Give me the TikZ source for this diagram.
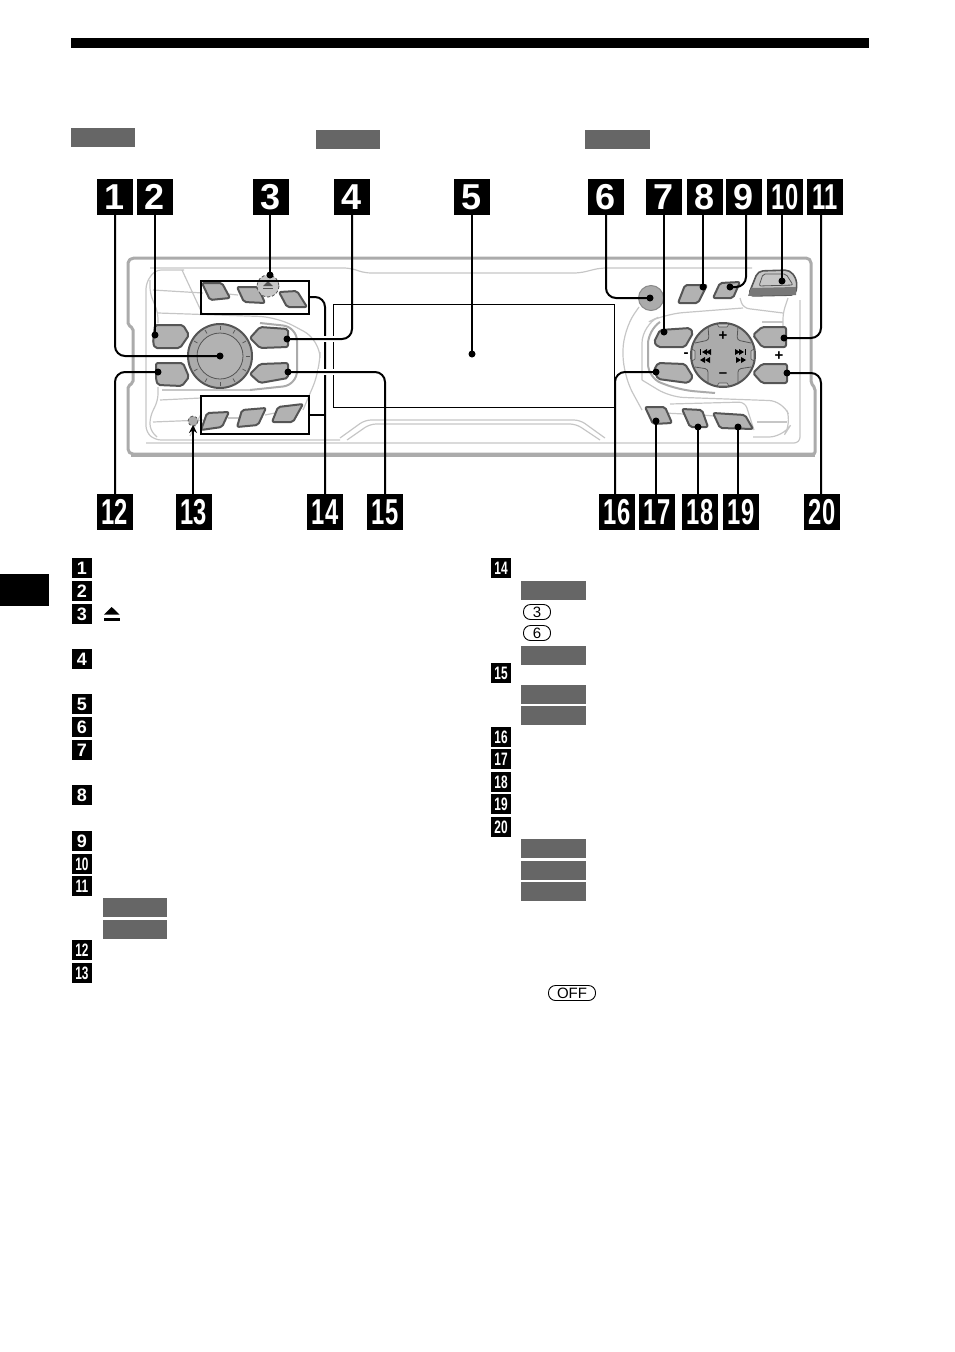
\documentclass[tikz,border=0pt]{standalone}
\usepackage{fontspec}
\setmainfont{Liberation Sans}
\usetikzlibrary{arrows.meta}
\definecolor{shellgray}{HTML}{ABABAB}
\definecolor{trimgray}{HTML}{C6C6C6}
\definecolor{capgray}{HTML}{B2B2B2}
\definecolor{edgegray}{HTML}{555555}
\definecolor{bargray}{HTML}{666666}
\newcommand{\tight}[1]{\scalebox{0.66}[1]{#1}}
\tikzset{
    numbox/.style = {fill = black, text = white, minimum size = 36pt, inner sep = 0pt, font = \bfseries\fontsize{36}{36}\selectfont},
    legbox/.style = {fill = black, text = white, minimum size = 20pt, inner sep = 0pt, font = \bfseries\fontsize{18}{18}\selectfont},
    greybar/.style = {fill = bargray, draw = none},
    shell/.style = {draw = shellgray, line width = 3pt, rounded corners = 2pt},
    trim/.style = {draw = trimgray, line width = 1.2pt, rounded corners = 6pt},
    btn/.style = {fill = capgray, draw = edgegray, line width = 2pt, rounded corners = 2pt, line join = round},
    pindot/.style = {circle, fill = black, minimum size = 7pt, inner sep = 0pt},
    lead/.style = {draw = black, line width = 2pt, rounded corners = 10pt},
    frame/.style = {draw = black, line width = 2pt},
    keycap/.style = {draw = black, line width = 0.9pt, rounded corners = 7pt, inner sep = 0pt, font = \fontsize{15}{15}\selectfont},
    padline/.style = {draw = edgegray, line width = 0.8pt, rounded corners = 3pt}
}
\begin{document}
\begin{tikzpicture}[x = 1pt, y = -1pt]
    \useasboundingbox (0, 0) rectangle (954, 1352);

    % page furniture
    \fill[black] (71, 38) rectangle (869, 48);
    \fill[black] (0, 574) rectangle (49, 606);
    \fill[greybar] (71, 128) rectangle (135, 147);
    \fill[greybar] (316, 130) rectangle (380, 149);
    \fill[greybar] (585, 130) rectangle (650, 149);

    % faceplate outline
    \draw[shell] (132, 258) -- (808, 258) -- (811, 261) -- (811, 383) -- (815, 388) -- (815, 454) -- (131, 454) -- (128, 451) -- (128, 386) -- (133, 383) -- (133, 328) -- (128, 325) -- (128, 261) -- cycle;
    \draw[draw = shellgray, line width = 1.5pt] (131, 456) -- (815, 456);
    \draw[trim] (150, 268) -- (350, 268) -- (365, 273) -- (580, 273) -- (600, 268) -- (752, 268);
    \draw[trim] (800, 300) -- (800, 443) -- (146, 443);
    \draw[trim] (340, 438) -- (365, 420) -- (580, 420) -- (605, 438);
    \draw[trim] (347, 440) -- (370, 424) -- (576, 424) -- (600, 440);

    % left pocket
    \draw[trim] (184, 270) -- (155, 270) -- (146, 283) -- (146, 432) -- (155, 440) -- (340, 440);
    \draw[trim] (182, 270) -- (202, 313);
    \draw[trim] (150, 280) -- (150, 293) -- (158, 313) -- (158, 323);
    \draw[trim, rounded corners = 18pt] (158, 313) -- (277, 317) -- (320, 340) -- (320, 370) -- (303, 410);
    \draw[draw = shellgray, line width = 2pt, rounded corners = 14pt] (260, 323) -- (297, 327) -- (297, 385) -- (250, 390);
    \draw[trim] (158, 387) -- (158, 400) -- (150, 417) -- (150, 430) -- (157, 437);
    \draw[trim] (162, 390) -- (250, 390);
    \draw[trim] (160, 400) -- (201, 398);
    \draw[trim] (153, 290) -- (203, 293);
    \draw[trim] (153, 422) -- (203, 420);
    \draw[trim] (201, 414) -- (190, 436);
    \draw[trim] (228, 294) -- (238, 295);
    \draw[trim] (228, 418) -- (240, 418);
    \draw[trim] (265, 415) -- (275, 413);

    % right pocket
    \draw[trim, rounded corners = 20pt] (639, 307) -- (623, 330) -- (623, 375) -- (642, 410);
    \draw[trim, rounded corners = 18pt] (642, 380) -- (642, 325) -- (665, 314) -- (743, 308);
    \draw[trim] (740, 298) -- (743, 308) -- (783, 313);
    \draw[trim] (788, 298) -- (783, 313) -- (783, 326);
    \draw[draw = shellgray, line width = 2pt, rounded corners = 14pt] (660, 322) -- (648, 330) -- (648, 378) -- (680, 390) -- (715, 393);
    \draw[trim, rounded corners = 14pt] (642, 380) -- (670, 397) -- (783, 401) -- (792, 423) -- (783, 437) -- (753, 437);
    \draw[trim] (670, 404) -- (745, 402) -- (754, 430);
    \draw[trim] (757, 422) -- (787, 422);
    \draw[trim] (762, 322) -- (783, 322);
    \draw[trim] (664, 413) -- (684, 414);
    \draw[trim] (702, 415) -- (714, 416);

    % display
    \draw[black, line width = 0.5pt] (333, 304) rectangle (614, 407);

    % left cluster
    \draw[btn] (155, 325) -- (183, 325) -- (189, 335) -- (180, 348) -- (155, 348) -- (153, 343) -- cycle;
    \draw[btn] (156, 363) -- (183, 363) -- (189, 377) -- (182, 386) -- (158, 385) -- (156, 380) -- cycle;
    \draw[btn] (260, 327) -- (288, 329) -- (288, 347) -- (260, 348) -- (250, 338) -- cycle;
    \draw[btn] (260, 364) -- (288, 363) -- (288, 378) -- (260, 383) -- (250, 374) -- cycle;
    \draw[btn] (202, 283) -- (222, 283) -- (230, 298) -- (210, 300) -- cycle;
    \draw[btn] (237, 287) -- (258, 287) -- (265, 303) -- (244, 302) -- cycle;
    \draw[btn] (279, 292) -- (297, 291) -- (307, 307) -- (287, 307) -- cycle;
    \draw[btn] (207, 413) -- (229, 412) -- (222, 427) -- (201, 430) -- cycle;
    \draw[btn] (242, 410) -- (266, 408) -- (258, 425) -- (237, 427) -- cycle;
    \draw[btn] (278, 407) -- (303, 404) -- (293, 422) -- (272, 422) -- cycle;

    % knob
    \filldraw[fill = shellgray, draw = edgegray, line width = 2pt] (220, 356) circle (32);
    \filldraw[fill = capgray, draw = edgegray, line width = 0.8pt] (220, 356) circle (23);
    \foreach \a in {0, 30, ..., 330} {
        \draw[edgegray, line width = 0.7pt] ([shift = {(220, 356)}] \a : 26) -- ([shift = {(220, 356)}] \a : 30);
    }

    % small round controls
    \filldraw[fill = trimgray, draw = edgegray, line width = 0.8pt, densely dashed] (268, 286) circle (11);
    \fill[edgegray] (263, 286) -- (273, 286) -- (268, 281) -- cycle;
    \fill[edgegray] (263, 287.5) rectangle (273, 289);
    \filldraw[fill = shellgray, draw = edgegray, line width = 0.8pt, densely dashed] (193, 421) circle (5);
    \filldraw[fill = shellgray, draw = shellgray!80!black, line width = 1pt] (651, 298) circle (12.5);

    % right cluster
    \draw[btn] (660, 330) -- (690, 328) -- (693, 333) -- (685, 347) -- (658, 347) -- (654, 342) -- cycle;
    \draw[btn] (658, 363) -- (685, 364) -- (693, 377) -- (688, 383) -- (658, 379) -- (654, 370) -- cycle;
    \draw[btn] (762, 327) -- (786, 327) -- (786, 347) -- (762, 347) -- (753, 335) -- cycle;
    \draw[btn] (762, 364) -- (787, 364) -- (787, 383) -- (762, 383) -- (753, 373) -- cycle;
    \draw[btn] (685, 285) -- (707, 285) -- (698, 303) -- (678, 303) -- cycle;
    \draw[btn] (720, 283) -- (740, 282) -- (733, 298) -- (713, 298) -- cycle;
    \draw[btn] (645, 407) -- (665, 407) -- (672, 423) -- (653, 424) -- cycle;
    \draw[btn] (682, 409) -- (702, 410) -- (708, 427) -- (690, 427) -- cycle;
    \draw[btn] (713, 413) -- (745, 415) -- (753, 429) -- (720, 428) -- cycle;

    % release tab
    \filldraw[fill = trimgray, draw = edgegray, line width = 1.6pt, rounded corners = 5pt] (758, 271) -- (790, 270) -- (797, 280) -- (796, 295) -- (748, 296) -- cycle;
    \fill[shellgray!70!black] (751, 288) -- (796, 287) -- (796, 295) -- (748, 296) -- cycle;
    \draw[edgegray, line width = 0.8pt, rounded corners = 2pt] (763, 274) -- (759, 286) -- (793, 285) -- (786, 274) -- cycle;

    % direction pad
    \filldraw[fill = shellgray, draw = edgegray, line width = 2pt] (723, 355) circle (32);
    \draw[padline] (708, 326) -- (709, 340) -- (695, 343);
    \draw[padline] (738, 326) -- (737, 340) -- (751, 343);
    \draw[padline] (708, 384) -- (708, 369) -- (695, 367);
    \draw[padline] (738, 384) -- (738, 369) -- (751, 367);
    \filldraw[fill = trimgray, draw = edgegray, line width = 0.6pt] (717, 324) -- (729, 324) -- (727, 327) -- (719, 327) -- cycle;
    \filldraw[fill = trimgray, draw = edgegray, line width = 0.6pt] (717, 386) -- (729, 386) -- (727, 383) -- (719, 383) -- cycle;
    \filldraw[fill = trimgray, draw = edgegray, line width = 0.6pt] (692, 349) -- (692, 361) -- (695, 359) -- (695, 351) -- cycle;
    \filldraw[fill = trimgray, draw = edgegray, line width = 0.6pt] (754, 349) -- (754, 361) -- (751, 359) -- (751, 351) -- cycle;
    \node[font = \bfseries\fontsize{15}{15}\selectfont, inner sep = 0pt] (padplus) at (723, 336) {+};
    \node[font = \bfseries\fontsize{15}{15}\selectfont, inner sep = 0pt] (padminus) at (723, 375) {--};
    \node[font = \bfseries\fontsize{15}{15}\selectfont, inner sep = 0pt] (leftminus) at (686, 355) {-};
    \node[font = \bfseries\fontsize{15}{15}\selectfont, inner sep = 0pt] (rightplus) at (779, 356) {+};
    \fill[black] (700, 349) rectangle (701, 355);
    \foreach \x in {707, 711} {
        \fill[black] (\x - 5, 352) -- (\x, 349) -- (\x, 355) -- cycle;
    }
    \foreach \x in {705, 710} {
        \fill[black] (\x - 5, 360) -- (\x, 357) -- (\x, 363) -- cycle;
    }
    \fill[black] (745, 349) rectangle (746, 355);
    \foreach \x in {735, 739} {
        \fill[black] (\x + 5, 352) -- (\x, 349) -- (\x, 355) -- cycle;
    }
    \foreach \x in {736, 741} {
        \fill[black] (\x + 5, 360) -- (\x, 357) -- (\x, 363) -- cycle;
    }

    % frames round the number buttons
    \node[frame, minimum width = 108pt, minimum height = 33pt, inner sep = 0pt] (topframe) at (255, 297.5) {};
    \node[frame, minimum width = 108pt, minimum height = 38pt, inner sep = 0pt] (lowframe) at (255, 415) {};

    % number boxes above and below
    \node[numbox] (n1) at (115, 197) {1};
    \node[numbox] (n2) at (155, 197) {2};
    \node[numbox] (n3) at (271, 197) {3};
    \node[numbox] (n4) at (352, 197) {4};
    \node[numbox] (n5) at (472, 197) {5};
    \node[numbox] (n6) at (606, 197) {6};
    \node[numbox] (n7) at (664, 197) {7};
    \node[numbox] (n8) at (705, 197) {8};
    \node[numbox] (n9) at (744, 197) {9};
    \node[numbox] (n10) at (785, 197) {\tight{10}};
    \node[numbox] (n11) at (825, 197) {\tight{11}};
    \node[numbox] (n12) at (115, 512) {\tight{12}};
    \node[numbox] (n13) at (194, 512) {\tight{13}};
    \node[numbox] (n14) at (325, 512) {\tight{14}};
    \node[numbox] (n15) at (385, 512) {\tight{15}};
    \node[numbox] (n16) at (617, 512) {\tight{16}};
    \node[numbox] (n17) at (657, 512) {\tight{17}};
    \node[numbox] (n18) at (700, 512) {\tight{18}};
    \node[numbox] (n19) at (741, 512) {\tight{19}};
    \node[numbox] (n20) at (822, 512) {\tight{20}};

    % pin dots
    \node[pindot] (d1) at (220, 356) {};
    \node[pindot] (d2) at (155, 335) {};
    \node[pindot] (d3) at (270, 275) {};
    \node[pindot] (d4) at (287, 339) {};
    \node[pindot] (d5) at (472, 354) {};
    \node[pindot] (d6) at (650, 298) {};
    \node[pindot] (d7) at (664, 332) {};
    \node[pindot] (d8) at (703, 287) {};
    \node[pindot] (d9) at (730, 287) {};
    \node[pindot] (d10) at (782, 281) {};
    \node[pindot] (d11) at (784, 338) {};
    \node[pindot] (d12) at (158, 372) {};
    \node[pindot] (d15) at (288, 372) {};
    \node[pindot] (d16) at (656, 372) {};
    \node[pindot] (d17) at (656, 421) {};
    \node[pindot] (d18) at (698, 427) {};
    \node[pindot] (d19) at (738, 427) {};
    \node[pindot] (d20) at (787, 373) {};
    \coordinate (tip13) at (193, 425);

    % leaders
    \draw[lead] (n14.north) |- (topframe.east |- 0, 297);
    \draw[lead, rounded corners = 0pt] (n14.north |- lowframe.east) -- (lowframe.east);
    \draw[lead] (n1.south) |- (d1.center);
    \draw[lead] (n2.south) -- (d2.center);
    \draw[lead] ([xshift = -1pt] n3.south) -- (d3.center);
    \draw[draw = white, line width = 6pt] (318, 339) -- (334, 339);
    \draw[draw = white, line width = 6pt] (318, 372) -- (334, 372);
    \draw[lead] (n4.south) |- (d4.center);
    \draw[lead] (n5.south) -- (d5.center);
    \draw[lead] (n6.south) |- (d6.center);
    \draw[lead] (n7.south) -- (d7.center);
    \draw[lead] ([xshift = -2pt] n8.south) -- (d8.center);
    \draw[lead] ([xshift = 2pt] n9.south) |- (d9.center);
    \draw[lead] ([xshift = -3pt] n10.south) -- (d10.center);
    \draw[lead] ([xshift = -4pt] n11.south) |- (d11.center);
    \draw[lead] (n12.north) |- (d12.center);
    \draw[lead, -{Stealth[length = 8pt, width = 8pt]}] ([xshift = -1pt] n13.north) -- (tip13);
    \draw[lead] (n15.north) |- (d15.center);
    \draw[lead] ([xshift = -2pt] n16.north) |- (d16.center);
    \draw[lead] ([xshift = -1pt] n17.north) -- (d17.center);
    \draw[lead] ([xshift = -2pt] n18.north) -- (d18.center);
    \draw[lead] ([xshift = -3pt] n19.north) -- (d19.center);
    \draw[lead] ([xshift = -1pt] n20.north) |- (d20.center);

    % left column
    \node[legbox] (a1) at (82, 568) {1};
    \node[legbox] (a2) at (82, 591) {2};
    \node[legbox] (a3) at (82, 614) {3};
    \node[legbox] (a4) at (82, 659) {4};
    \node[legbox] (a5) at (82, 704) {5};
    \node[legbox] (a6) at (82, 727) {6};
    \node[legbox] (a7) at (82, 750) {7};
    \node[legbox] (a8) at (82, 795) {8};
    \node[legbox] (a9) at (82, 841) {9};
    \node[legbox] (a10) at (82, 864) {\tight{10}};
    \node[legbox] (a11) at (82, 886) {\tight{11}};
    \node[legbox] (a12) at (82, 950) {\tight{12}};
    \node[legbox] (a13) at (82, 973) {\tight{13}};
    \fill[black] (104, 614.5) -- (119.5, 614.5) -- (111.7, 607) -- cycle;
    \fill[black] (104, 618) rectangle (119.5, 621);
    \fill[greybar] (103, 898) rectangle (167, 917);
    \fill[greybar] (103, 920) rectangle (167, 939);

    % right column
    \node[legbox] (b14) at (501, 568) {\tight{14}};
    \node[legbox] (b15) at (501, 673) {\tight{15}};
    \node[legbox] (b16) at (501, 737) {\tight{16}};
    \node[legbox] (b17) at (501, 759) {\tight{17}};
    \node[legbox] (b18) at (501, 782) {\tight{18}};
    \node[legbox] (b19) at (501, 804) {\tight{19}};
    \node[legbox] (b20) at (501, 827) {\tight{20}};
    \foreach \y in {581, 646, 685, 706, 839, 861, 882} {
        \fill[greybar] (521, \y) rectangle (586, \y + 19);
    }
    \node[keycap, minimum width = 27pt, minimum height = 15pt] (key3) at (537, 612) {3};
    \node[keycap, minimum width = 27pt, minimum height = 15pt] (key6) at (537, 633) {6};
    \node[keycap, minimum width = 47pt, minimum height = 15pt] (keyoff) at (572, 993) {OFF};
\end{tikzpicture}
\end{document}
